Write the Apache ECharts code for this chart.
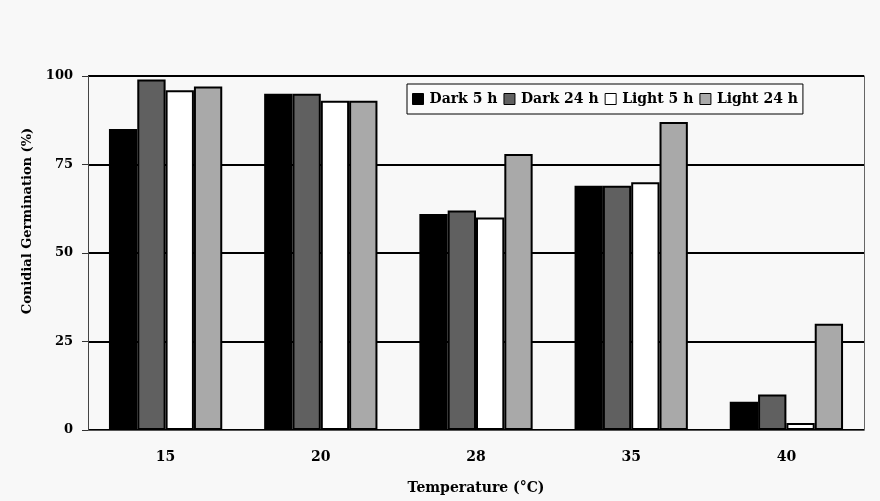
<!DOCTYPE html>
<html>
<head>
<meta charset="utf-8">
<script src="https://cdn.jsdelivr.net/npm/echarts@6/dist/echarts.min.js"></script>
<style>
html,body{margin:0;padding:0;background:#f8f8f8;}
#chart{width:880px;height:501px;}
</style>
</head>
<body>
<div id="chart"></div>
<script>
const categories = ['15', '20', '28', '35', '40'];
const dark5 = [85, 95, 61, 69, 8];
const dark24 = [99, 95, 62, 69, 10];
const light5 = [96, 93, 60, 70, 2];
const light24 = [97, 93, 78, 87, 30];
const yTicks = [0, 25, 50, 75, 100];

const FONT = 'DejaVu Serif';
const chart = echarts.init(document.getElementById('chart'), null, {renderer: 'canvas'});

function bar(name, data, color) {
  return {
    name: name,
    type: 'bar',
    data: data,
    barGap: '0%',
    barCategoryGap: '27%',
    itemStyle: {color: color, borderColor: '#000', borderWidth: 2},
    emphasis: {disabled: true},
    yAxisIndex: 0
  };
}

chart.setOption({
  backgroundColor: '#f8f8f8',
  animation: false,
  grid: {left: 88, right: 16, top: 76, bottom: 71, containLabel: false},
  legend: {
    left: 407,
    top: 84,
    padding: [8, 5, 8, 5],
    borderColor: '#000',
    borderWidth: 1,
    backgroundColor: '#fbfbfb',
    itemWidth: 11,
    itemHeight: 11,
    itemGap: 6,
    icon: 'rect',
    itemStyle: {borderColor: '#000', borderWidth: 1},
    textStyle: {fontFamily: FONT, fontWeight: 'bold', fontSize: 14, color: '#000', padding: [0, 0, 0, 1]},
    data: ['Dark 5 h', 'Dark 24 h', 'Light 5 h', 'Light 24 h']
  },
  xAxis: {
    type: 'category',
    data: categories,
    name: 'Temperature (°C)',
    nameLocation: 'middle',
    nameGap: 51,
    nameTextStyle: {fontFamily: FONT, fontWeight: 'bold', fontSize: 14, color: '#000'},
    axisLine: {lineStyle: {color: '#555', width: 1}},
    axisTick: {show: false},
    axisLabel: {fontFamily: FONT, fontWeight: 'bold', fontSize: 14, color: '#000', margin: 20}
  },
  yAxis: [{
    type: 'value',
    min: yTicks[0],
    max: yTicks[yTicks.length - 1],
    interval: 25,
    name: 'Conidial Germination (%)',
    nameLocation: 'middle',
    nameGap: 54,
    nameTextStyle: {fontFamily: FONT, fontWeight: 'bold', fontSize: 13, color: '#000', padding: [0, 0, 0, 64]},
    axisLine: {show: true, lineStyle: {color: '#444', width: 1}},
    axisTick: {show: true, inside: false, length: 6, lineStyle: {color: '#333', width: 1}},
    axisLabel: {fontFamily: FONT, fontWeight: 'bold', fontSize: 13, color: '#000', margin: 15},
    splitLine: {show: true, lineStyle: {color: '#000', width: 2}}
  }, {
    type: 'value',
    position: 'right',
    min: 0,
    max: 100,
    interval: 25,
    axisLine: {show: true, lineStyle: {color: '#666', width: 1}},
    axisTick: {show: false},
    axisLabel: {show: false},
    splitLine: {show: false}
  }],
  series: [
    bar('Dark 5 h', dark5, '#000000'),
    bar('Dark 24 h', dark24, '#606060'),
    bar('Light 5 h', light5, '#ffffff'),
    bar('Light 24 h', light24, '#a9a9a9')
  ]
});
</script>
</body>
</html>
